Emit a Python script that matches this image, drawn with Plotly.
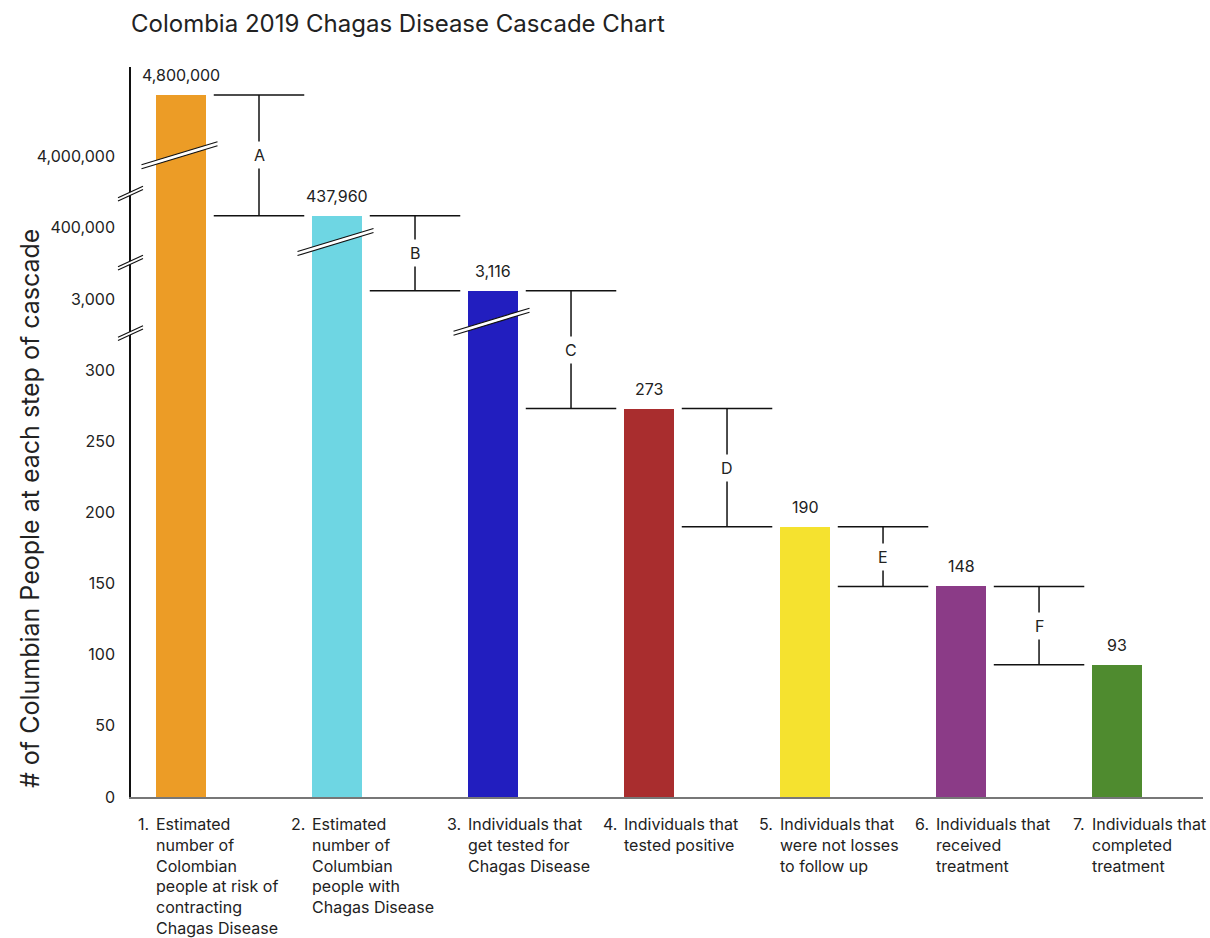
import plotly.graph_objects as go

# ---------------- data ----------------
title_text = "Colombia 2019 Chagas Disease Cascade Chart"
y_title = "# of Columbian People at each step of cascade"

step_numbers = ["1.", "2.", "3.", "4.", "5.", "6.", "7."]
step_labels = [
    "Estimated<br>number of<br>Colombian<br>people at risk of<br>contracting<br>Chagas Disease",
    "Estimated<br>number of<br>Columbian<br>people with<br>Chagas Disease",
    "Individuals that<br>get tested for<br>Chagas Disease",
    "Individuals that<br>tested positive",
    "Individuals that<br>were not losses<br>to follow up",
    "Individuals that<br>received<br>treatment",
    "Individuals that<br>completed<br>treatment",
]
values = [4800000, 437960, 3116, 273, 190, 148, 93]
value_labels = ["4,800,000", "437,960", "3,116", "273", "190", "148", "93"]
bar_colors = ["#EC9C26", "#6ED6E3", "#221EBF", "#A92D2E", "#F5E22F", "#8B3B87", "#4F8B2F"]
drop_labels = ["A", "B", "C", "D", "E", "F"]

tick_values = [0, 50, 100, 150, 200, 250, 300, 3000, 400000, 4000000]
tick_labels = ["0", "50", "100", "150", "200", "250", "300", "3,000", "400,000", "4,000,000"]

# broken axis: (segment start value, display position, values per display unit)
SCALE_SEGMENTS = [(0, 0, 1), (3000, 350, 20), (400000, 400, 4500), (4000000, 450, 18500)]


def to_display(v):
    start, pos, per = [s for s in SCALE_SEGMENTS if v >= s[0]][-1]
    return pos + (v - start) / per


# ---------------- layout geometry ----------------
FIG_W, FIG_H = 1210, 938
M_L, M_R, M_T, M_B = 131, 7, 67, 141
PW = FIG_W - M_L - M_R
PH = FIG_H - M_T - M_B
Y_MAX = 513
X_RANGE = [-0.3205, 6.551]
BAR_W = 0.32
TXT = "#222222"
FONT = "Inter"

axis_break_pos = [424, 375.5, 326]          # display units on the y axis
bar_break_pos = {0: 451, 1: 390, 2: 334}    # display units on bars


def px_x(xd):
    return M_L + (xd - X_RANGE[0]) / (X_RANGE[1] - X_RANGE[0]) * PW


def px_y(yd):
    return M_T + PH - yd / Y_MAX * PH


def paper_x(px):
    return (px - M_L) / PW


def paper_y(py):
    return (M_T + PH - py) / PH


def break_shapes(cx, cy, hw, hr, gap):
    """white gap with two parallel slash lines, given in pixels"""
    g = gap / 2
    pts = [(cx - hw, cy + hr - g), (cx + hw, cy - hr - g), (cx + hw, cy - hr + g), (cx - hw, cy + hr + g)]
    path = "M " + " L ".join(f"{paper_x(a):.5f},{paper_y(b):.5f}" for a, b in pts) + " Z"
    out = [dict(type="path", xref="paper", yref="paper", path=path,
                fillcolor="white", line=dict(width=0), layer="above")]
    for s in (-g, g):
        out.append(dict(type="line", xref="paper", yref="paper",
                        x0=paper_x(cx - hw), y0=paper_y(cy + hr + s),
                        x1=paper_x(cx + hw), y1=paper_y(cy - hr + s),
                        line=dict(color="#111111", width=1.2), layer="above"))
    return out


disp = [to_display(v) for v in values]
x_idx = list(range(len(values)))

fig = go.Figure()
fig.add_trace(go.Bar(x=x_idx, y=disp, width=BAR_W, marker=dict(color=bar_colors, line=dict(width=0)),
                     hoverinfo="skip", showlegend=False))

shapes = []
annotations = []

# value labels
for i, (d, lab) in enumerate(zip(disp, value_labels)):
    annotations.append(dict(x=i, y=d, xref="x", yref="y", text=lab, showarrow=False,
                            yanchor="bottom", yshift=8, font=dict(family=FONT, size=16, color=TXT)))

# drop brackets
for i, lab in enumerate(drop_labels):
    xc = i + 0.5
    top, bot = disp[i], disp[i + 1]
    for yv in (top, bot):
        shapes.append(dict(type="line", xref="x", yref="y", x0=xc - 0.29, x1=xc + 0.29, y0=yv, y1=yv,
                           line=dict(color="#111111", width=1.5)))
    shapes.append(dict(type="line", xref="x", yref="y", x0=xc, x1=xc, y0=bot, y1=top,
                       line=dict(color="#111111", width=1.5)))
    annotations.append(dict(x=xc, y=(top + bot) / 2, xref="x", yref="y", text=lab, showarrow=False,
                            bgcolor="white", borderpad=3, font=dict(family=FONT, size=16, color=TXT)))

# category labels
for i, (num, lab) in enumerate(zip(step_numbers, step_labels)):
    annotations.append(dict(x=i - BAR_W / 2, y=0, xref="x", yref="paper", text=num, showarrow=False,
                            xanchor="right", yanchor="top", xshift=-5, yshift=-14.5,
                            font=dict(family=FONT, size=16, color=TXT)))
    annotations.append(dict(x=i - BAR_W / 2, y=0, xref="x", yref="paper", text=lab, showarrow=False,
                            xanchor="left", yanchor="top", align="left", xshift=-2, yshift=-14.5,
                            font=dict(family=FONT, size=16, color=TXT)))

# y-axis title
annotations.append(dict(x=paper_x(30), y=paper_y(509), xref="paper", yref="paper", text=y_title,
                        textangle=-90, showarrow=False, xanchor="center", yanchor="middle",
                        font=dict(family=FONT, size=25, color=TXT)))

# axis break marks
for yd in axis_break_pos:
    shapes += break_shapes(M_L - 0.5, px_y(yd), 12.5, 5.75, 3.2)
# bar break marks
for i, yd in bar_break_pos.items():
    shapes += break_shapes(px_x(i) - 1.5, px_y(yd), 38, 11.5, 4)

fig.update_layout(
    width=FIG_W, height=FIG_H,
    margin=dict(l=M_L, r=M_R, t=M_T, b=M_B, autoexpand=False),
    paper_bgcolor="white", plot_bgcolor="white",
    title=dict(text=title_text, xref="container", yref="container", x=131 / FIG_W, xanchor="left",
               y=1 - 23.5 / FIG_H, yanchor="middle", font=dict(family=FONT, size=24, color=TXT)),
    font=dict(family=FONT, color=TXT),
    xaxis=dict(range=X_RANGE, showgrid=False, zeroline=False, showticklabels=False, ticks="",
               showline=True, linecolor="#777777", linewidth=2, fixedrange=True),
    yaxis=dict(range=[0, Y_MAX], showgrid=False, zeroline=False, showline=True, linecolor="#111111",
               linewidth=1.5, tickmode="array", tickvals=[to_display(v) for v in tick_values],
               ticktext=tick_labels, ticks="outside", ticklen=11, tickcolor="rgba(0,0,0,0)",
               tickfont=dict(family=FONT, size=16, color=TXT), fixedrange=True),
    shapes=shapes, annotations=annotations, bargap=0,
)

fig.write_html("out.html", config={"displayModeBar": False},
               post_script="document.body.style.margin='0';")
